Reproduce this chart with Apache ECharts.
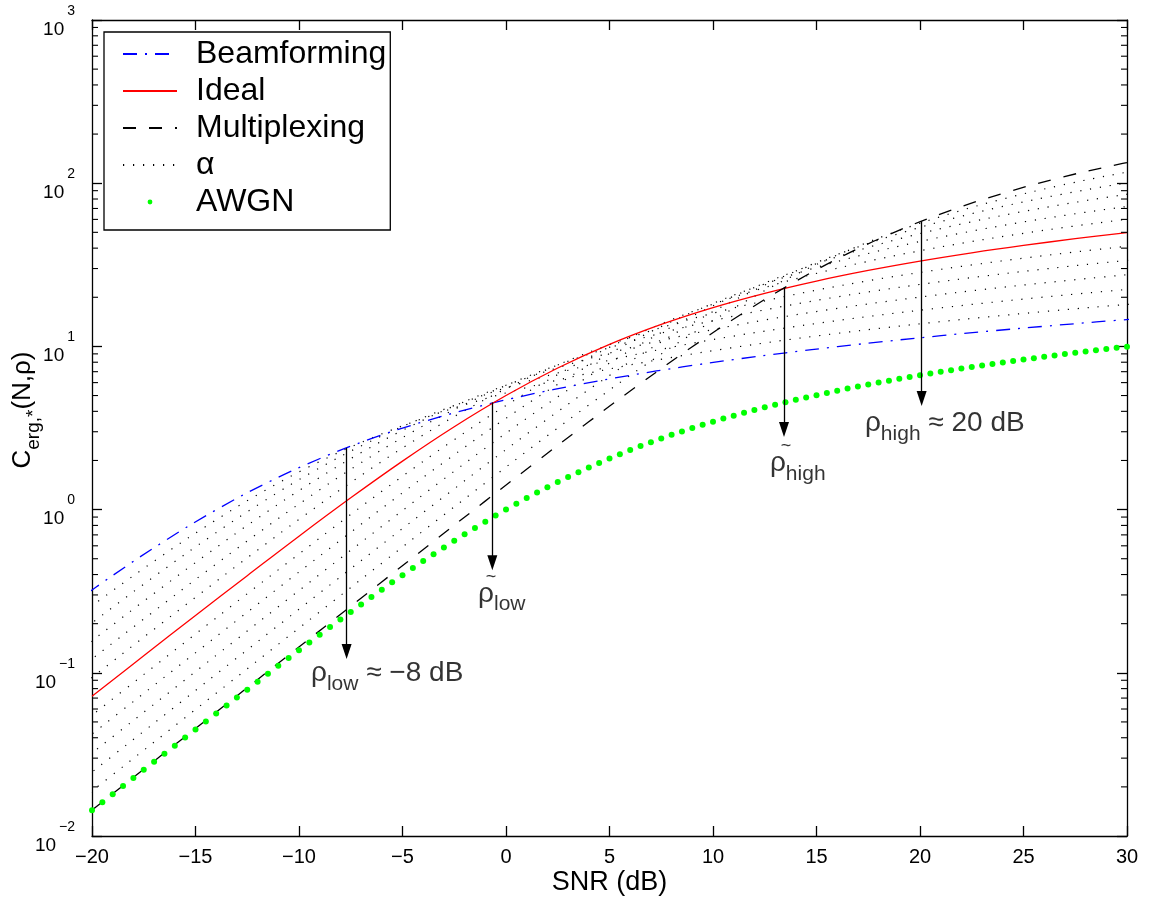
<!DOCTYPE html>
<html>
<head>
<meta charset="utf-8">
<script src="https://cdn.jsdelivr.net/npm/echarts@6/dist/echarts.min.js"></script>
<style>
html,body{margin:0;padding:0;background:#ffffff;}
#chart{width:1152px;height:902px;}
</style>
</head>
<body>
<div id="chart"></div>
<script>
// ---------------- DATA ----------------
const snrRange = [-20, 30];
const snrTicks = [-20, -15, -10, -5, 0, 5, 10, 15, 20, 25, 30];
const capRange = [0.01, 1000];
const minorTickValues = [0.02,0.03,0.04,0.05,0.06,0.07,0.08,0.09,
  0.2,0.3,0.4,0.5,0.6,0.7,0.8,0.9, 2,3,4,5,6,7,8,9,
  20,30,40,50,60,70,80,90, 200,300,400,500,600,700,800,900];

const beamSnr = [-21.48,-18.98,-16.48,-13.98,-11.48,-8.98,-6.48,-3.98,-1.48,1.02,3.52,6.02,8.52,11.02,13.52,16.02,18.52,21.02,23.52,26.02,28.52,31.02];
const beamforming = [0.2361,0.3964,0.6437,1.000,1.474,2.057,2.728,3.459,4.231,5.028,5.839,6.658,7.482,8.309,9.138,9.967,10.80,11.63,12.46,13.29,14.12,14.95];

const idealSnr = [-20,-17.5,-15,-12.5,-10,-7.5,-5,-2.5,0,2.5,5,7.5,10,12.5,15,17.5,20,22.5,25,27.5,30];
const ideal = [0.07178,0.1272,0.2246,0.3938,0.6875,1.181,1.982,3.219,5.000,7.371,10.29,13.64,17.30,21.16,25.14,29.19,33.29,37.41,41.55,45.69,49.84];

const multiplexSnr = [-21.02,-18.52,-16.02,-13.52,-11.02,-8.52,-6.02,-3.52,-1.02,1.48,3.98,6.48,8.98,11.48,13.98,16.48,18.98,21.48,23.98,26.48,28.98,31.48];
const multiplexing = [0.01140,0.02028,0.03605,0.06408,0.1139,0.2023,0.3589,0.6358,1.123,1.969,3.438,5.903,9.910,16.09,25.00,36.85,51.43,68.19,86.49,105.8,125.7,146.0];

const alpha1Snr = [-21.65,-19.15,-16.65,-14.15,-11.65,-9.15,-6.65,-4.15,-1.65,0.85,3.35,5.85,8.35,10.85,13.35,15.85,18.35,20.85,23.35,25.85,28.35,30.85];
const alpha1 = [0.1798,0.3088,0.5184,0.8418,1.308,1.928,2.690,3.567,4.524,5.533,6.575,7.635,8.707,9.784,10.87,11.95,13.03,14.12,15.20,16.29,17.38,18.46];
const alpha2Snr = [-21.82,-19.32,-16.82,-14.32,-11.82,-9.32,-6.82,-4.32,-1.82,0.68,3.18,5.68,8.18,10.68,13.18,15.68,18.18,20.68,23.18,25.68,28.18,30.68];
const alpha2 = [0.1347,0.2351,0.4038,0.6779,1.101,1.710,2.521,3.518,4.664,5.916,7.235,8.597,9.984,11.39,12.79,14.21,15.63,17.04,18.46,19.88,21.30,22.72];
const alpha3Snr = [-21.99,-19.49,-16.99,-14.49,-11.99,-9.49,-6.99,-4.49,-1.99,0.51,3.01,5.51,8.01,10.51,13.01,15.51,18.01,20.51,23.01,25.51,28.01,30.51];
const alpha3 = [0.1004,0.1761,0.3075,0.5280,0.8864,1.439,2.236,3.296,4.600,6.099,7.736,9.462,11.24,13.06,14.89,16.73,18.58,20.43,22.29,24.14,26.00,27.86];
const alpha4Snr = [-22.16,-19.66,-17.16,-14.66,-12.16,-9.66,-7.16,-4.66,-2.16,0.34,2.84,5.34,7.84,10.34,12.84,15.34,17.84,20.34,22.84,25.34,27.84,30.34];
const alpha4 = [0.07436,0.1313,0.2303,0.4021,0.6904,1.159,1.882,2.924,4.311,6.016,7.975,10.12,12.37,14.70,17.07,19.47,21.88,24.30,26.72,29.14,31.57,34.00];
const alpha5Snr = [-22.33,-19.83,-17.33,-14.83,-12.33,-9.83,-7.33,-4.83,-2.33,0.17,2.67,5.17,7.67,10.17,12.67,15.17,17.67,20.17,22.67,25.17,27.67,30.17];
const alpha5 = [0.05489,0.09724,0.1717,0.3012,0.5258,0.9029,1.516,2.461,3.824,5.637,7.867,10.43,13.23,16.18,19.22,22.33,25.46,28.61,31.77,34.94,38.11,41.28];
const alpha7Snr = [-20.17,-17.67,-15.17,-12.67,-10.17,-7.67,-5.17,-2.67,-0.17,2.33,4.83,7.33,9.83,12.33,14.83,17.33,19.83,22.33,24.83,27.33,29.83,32.33];
const alpha7 = [0.05290,0.09386,0.1663,0.2937,0.5150,0.8991,1.544,2.592,4.209,6.538,9.639,13.45,17.83,22.62,27.67,32.87,38.18,43.53,48.92,54.33,59.75,65.17];
const alpha8Snr = [-20.34,-17.84,-15.34,-12.84,-10.34,-7.84,-5.34,-2.84,-0.34,2.16,4.66,7.16,9.66,12.16,14.66,17.16,19.66,22.16,24.66,27.16,29.66,32.16];
const alpha8 = [0.03895,0.06917,0.1227,0.2174,0.3840,0.6734,1.176,2.019,3.389,5.504,8.550,12.60,17.59,23.32,29.58,36.18,42.99,49.92,56.93,63.97,71.04,78.13];
const alpha9Snr = [-20.51,-18.01,-15.51,-13.01,-10.51,-8.01,-5.51,-3.01,-0.51,1.99,4.49,6.99,9.49,11.99,14.49,16.99,19.49,21.99,24.49,26.99,29.49,31.99];
const alpha9 = [0.02866,0.05093,0.09045,0.1605,0.2843,0.5022,0.8806,1.537,2.640,4.432,7.197,11.18,16.48,23.00,30.49,38.68,47.31,56.21,65.28,74.44,83.66,92.90];
const alpha10Snr = [-20.68,-18.18,-15.68,-13.18,-10.68,-8.18,-5.68,-3.18,-0.68,1.82,4.32,6.82,9.32,11.82,14.32,16.82,19.32,21.82,24.32,26.82,29.32,31.82];
const alpha10 = [0.02108,0.03747,0.06660,0.1183,0.2099,0.3718,0.6567,1.152,2.010,3.452,5.796,9.411,14.62,21.55,30.08,39.88,50.58,61.86,73.51,85.36,97.34,109.4];
const alpha11Snr = [-20.85,-18.35,-15.85,-13.35,-10.85,-8.35,-5.85,-3.35,-0.85,1.65,4.15,6.65,9.15,11.65,14.15,16.65,19.15,21.65,24.15,26.65,29.15,31.65];
const alpha11 = [0.01550,0.02757,0.04900,0.08708,0.1547,0.2744,0.4861,0.8586,1.506,2.629,4.514,7.578,12.31,19.12,28.18,39.33,52.14,66.13,80.89,96.11,111.6,127.3];

const awgnSnr = [-20,-19.5,-19,-18.5,-18,-17.5,-17,-16.5,-16,-15.5,-15,-14.5,-14,-13.5,-13,-12.5,-12,-11.5,-11,-10.5,
  -10,-9.5,-9,-8.5,-8,-7.5,-7,-6.5,-6,-5.5,-5,-4.5,-4,-3.5,-3,-2.5,-2,-1.5,-1,-0.5,
  0,0.5,1,1.5,2,2.5,3,3.5,4,4.5,5,5.5,6,6.5,7,7.5,8,8.5,9,9.5,
  10,10.5,11,11.5,12,12.5,13,13.5,14,14.5,15,15.5,16,16.5,17,17.5,18,18.5,19,19.5,
  20,20.5,21,21.5,22,22.5,23,23.5,24,24.5,25,25.5,26,26.5,27,27.5,28,28.5,29,29.5,30];
const awgn = [0.01436,0.01610,0.01805,0.02024,0.02269,0.02543,0.02850,0.03194,0.03579,0.04010,0.04492,0.05030,0.05632,0.06305,0.07055,0.07876,0.08827,0.09868,0.1103,0.1232,
  0.1375,0.1534,0.1711,0.1906,0.2122,0.2361,0.2625,0.2915,0.3233,0.3582,0.3964,0.4381,0.4835,0.5327,0.5861,0.6437,0.7057,0.7723,0.8434,0.9193,
  1.000,1.085,1.176,1.271,1.370,1.474,1.583,1.695,1.812,1.933,2.057,2.185,2.316,2.451,2.588,2.728,2.870,3.014,3.161,3.309,
  3.459,3.611,3.764,3.919,4.075,4.231,4.389,4.548,4.707,4.867,5.028,5.189,5.351,5.513,5.676,5.839,6.002,6.166,6.330,6.494,
  6.658,6.823,6.987,7.152,7.317,7.482,7.648,7.813,7.978,8.144,8.309,8.475,8.641,8.806,8.972,9.138,9.304,9.469,9.635,9.801,9.967];

// annotation arrows (SNR, start value, end value)
const arrowSnr = [-7.70, -0.66, 13.43, 20.08];
const arrowFrom = [2.39, 4.53, 23.1, 58.5];
const arrowTo = [0.135, 0.473, 3.1, 4.8];
// annotation texts
const labelTexts = ['{r|ρ}{s|low}{r| ≈ −8 dB}', '{r|ρ}{s|low}', '{r|ρ}{s|high}', '{r|ρ}{s|high}{r| ≈ 20 dB}'];
const labelSnr = [-9.42, -1.35, 12.75, 17.34];
const labelCap = [0.098, 0.30, 1.89, 3.32];
const tildeSnr = [-0.72, 13.53];
const tildeCap = [0.388, 2.44];

// ---------------- CHART ----------------
const FONT = '"Liberation Sans", Arial, Helvetica, sans-serif';
const pairs = (xs, ys) => xs.map((x, i) => [x, ys[i]]);
const minus = (v) => (v < 0 ? '\u2212' + Math.abs(v) : String(v));
const expOf = (v) => minus(Math.round(Math.log10(v)));

const alphaSets = [
  [alpha1Snr, alpha1], [alpha2Snr, alpha2], [alpha3Snr, alpha3], [alpha4Snr, alpha4], [alpha5Snr, alpha5],
  [alpha7Snr, alpha7], [alpha8Snr, alpha8], [alpha9Snr, alpha9], [alpha10Snr, alpha10], [alpha11Snr, alpha11]
];

const series = [];
alphaSets.forEach(([xs, ys]) => {
  series.push({
    type: 'line', name: 'α', data: pairs(xs, ys), symbol: 'none', smooth: 0.4,
    lineStyle: { color: '#000000', width: 1.2, type: [1.2, 8.8] }, itemStyle: { color: '#000000' }, z: 1, silent: true
  });
});
series.push({
  type: 'line', name: 'Beamforming', data: pairs(beamSnr, beamforming), symbol: 'none', smooth: 0.4,
  lineStyle: { color: '#0000ff', width: 1.3, type: [14, 8, 2, 8] }, itemStyle: { color: '#0000ff' }, z: 3, silent: true
});
series.push({
  type: 'line', name: 'Ideal', data: pairs(idealSnr, ideal), symbol: 'none', smooth: 0.4,
  lineStyle: { color: '#ff0000', width: 1.3, type: 'solid' }, itemStyle: { color: '#ff0000' }, z: 3, silent: true
});
series.push({
  type: 'line', name: 'Multiplexing', data: pairs(multiplexSnr, multiplexing), symbol: 'none', smooth: 0.4,
  lineStyle: { color: '#000000', width: 1.3, type: [13, 13] }, itemStyle: { color: '#000000' }, z: 3, silent: true
});
series.push({
  type: 'line', name: 'AWGN', data: pairs(awgnSnr, awgn), symbol: 'circle', symbolSize: 6, showAllSymbol: true,
  lineStyle: { width: 0, opacity: 0 }, itemStyle: { color: '#00ff00', borderWidth: 0 }, z: 4, silent: true
});
// minor ticks of the log axis (left and right), placed through the axis scale
series.push({
  type: 'custom', name: 'minorTicks', silent: true, clip: false, z: 6,
  data: minorTickValues.map(v => [snrRange[0], v]),
  renderItem: (params, api) => {
    const v = api.value(1);
    const l = api.coord([snrRange[0], v]);
    const r = api.coord([snrRange[1], v]);
    return {
      type: 'group', children: [
        { type: 'line', shape: { x1: l[0], y1: l[1], x2: l[0] + 6, y2: l[1] }, style: { stroke: '#000', lineWidth: 1.1 } },
        { type: 'line', shape: { x1: r[0] - 6, y1: r[1], x2: r[0], y2: r[1] }, style: { stroke: '#000', lineWidth: 1.1 } }
      ]
    };
  }
});
// arrows
series.push({
  type: 'line', name: 'arrows', data: [], silent: true,
  markLine: {
    silent: true, animation: false, symbol: ['none', 'triangle'], symbolSize: [10, 15],
    lineStyle: { color: '#000000', width: 1.3, type: 'solid' }, label: { show: false },
    emphasis: { disabled: true },
    data: arrowSnr.map((x, i) => [{ coord: [x, arrowFrom[i]] }, { coord: [x, arrowTo[i]] }])
  },
  z: 5
});
// annotation labels
const richLabel = {
  r: { fontFamily: FONT, fontSize: 28, lineHeight: 30, color: '#000', verticalAlign: 'top' },
  s: { fontFamily: FONT, fontSize: 21, lineHeight: 21, color: '#000', verticalAlign: 'top', padding: [14, 0, 0, 0] }
};
series.push({
  type: 'scatter', name: 'labels', silent: true, symbolSize: 0, z: 7,
  data: labelSnr.map((x, i) => ({ value: [x, labelCap[i]], label: { formatter: labelTexts[i] } })),
  label: { show: true, position: 'right', distance: 0, color: '#000', rich: richLabel }
});
series.push({
  type: 'scatter', name: 'tildes', silent: true, symbolSize: 0, z: 7,
  data: tildeSnr.map((x, i) => [x, tildeCap[i]]),
  label: { show: true, position: 'inside', formatter: '~', fontFamily: FONT, fontSize: 18, color: '#000' }
});

const axisLineStyle = { color: '#000000', width: 1.3 };
const noSymbol = { opacity: 0 };
const option = {
  animation: false,
  backgroundColor: '#ffffff',
  grid: { left: 92, right: 25, top: 20, bottom: 66, containLabel: false, outerBoundsMode: 'none' },
  legend: {
    data: [
      { name: 'Beamforming', itemStyle: noSymbol },
      { name: 'Ideal', itemStyle: noSymbol },
      { name: 'Multiplexing', itemStyle: noSymbol },
      { name: 'α', itemStyle: noSymbol },
      { name: 'AWGN' }
    ],
    orient: 'vertical', left: 104, top: 32,
    padding: [6, 4, 12, 18], itemGap: 5, itemWidth: 54, itemHeight: 6,
    textStyle: { fontFamily: FONT, fontSize: 32, color: '#000', lineHeight: 30, padding: [0, 0, 0, 14] },
    borderColor: '#000', borderWidth: 1.3, backgroundColor: '#ffffff', borderRadius: 0,
    selectedMode: false, z: 10
  },
  xAxis: [
    {
      type: 'value', min: snrRange[0], max: snrRange[1], interval: 5, position: 'bottom',
      axisLine: { show: true, onZero: false, lineStyle: axisLineStyle },
      axisTick: { show: true, inside: true, length: 10, lineStyle: axisLineStyle },
      axisLabel: { fontFamily: FONT, fontSize: 20, color: '#000', margin: 11, formatter: (v) => minus(v) },
      splitLine: { show: false },
      name: 'SNR (dB)', nameLocation: 'middle', nameGap: 33, nameMoveOverlap: false,
      nameTextStyle: { fontFamily: FONT, fontSize: 27, color: '#000' }
    },
    {
      type: 'value', min: snrRange[0], max: snrRange[1], interval: 5, position: 'top',
      axisLine: { show: true, onZero: false, lineStyle: axisLineStyle },
      axisTick: { show: true, inside: true, length: 10, lineStyle: axisLineStyle },
      axisLabel: { show: false }, splitLine: { show: false }
    }
  ],
  yAxis: [
    {
      type: 'log', logBase: 10, min: capRange[0], max: capRange[1], position: 'left',
      axisLine: { show: true, onZero: false, lineStyle: axisLineStyle },
      axisTick: { show: true, inside: true, length: 10, lineStyle: axisLineStyle },
      axisLabel: {
        margin: 17, color: '#000', verticalAlign: 'top',
        formatter: (v) => '{b|10}{h|' + expOf(v) + '}',
        rich: {
          b: { fontFamily: FONT, fontSize: 19, color: '#000' },
          h: { fontFamily: FONT, fontSize: 14, color: 'transparent', padding: [0, 0, 0, 3] }
        }
      },
      splitLine: { show: false },
      name: '{c|C}{s|erg,*}{c|(N,ρ)}', nameLocation: 'middle', nameGap: 52, nameMoveOverlap: false,
      nameTextStyle: {
        padding: [0, 0, 0, 36],
        rich: {
          c: { fontFamily: FONT, fontSize: 26, lineHeight: 30, color: '#000', verticalAlign: 'top' },
          s: { fontFamily: FONT, fontSize: 19, lineHeight: 19, color: '#000', verticalAlign: 'top', padding: [14, 0, 0, 0] }
        }
      }
    },
    {
      type: 'log', logBase: 10, min: capRange[0], max: capRange[1], position: 'right',
      axisLine: { show: true, onZero: false, lineStyle: axisLineStyle },
      axisTick: { show: true, inside: true, length: 10, lineStyle: axisLineStyle },
      axisLabel: { show: false }, splitLine: { show: false }
    },
    {
      // exponents of the left tick labels (superscripts)
      type: 'log', logBase: 10, min: capRange[0], max: capRange[1], position: 'left', offset: 0,
      axisLine: { show: false }, axisTick: { show: false }, splitLine: { show: false },
      axisLabel: {
        margin: 17, color: '#000', fontFamily: FONT, fontSize: 14, verticalAlign: 'bottom',
        padding: [0, 0, 2, 0], formatter: (v) => expOf(v)
      }
    }
  ],
  series: series
};
const chart = echarts.init(document.getElementById('chart'), null, { renderer: 'canvas' });
chart.setOption(option);
</script>
</body>
</html>
